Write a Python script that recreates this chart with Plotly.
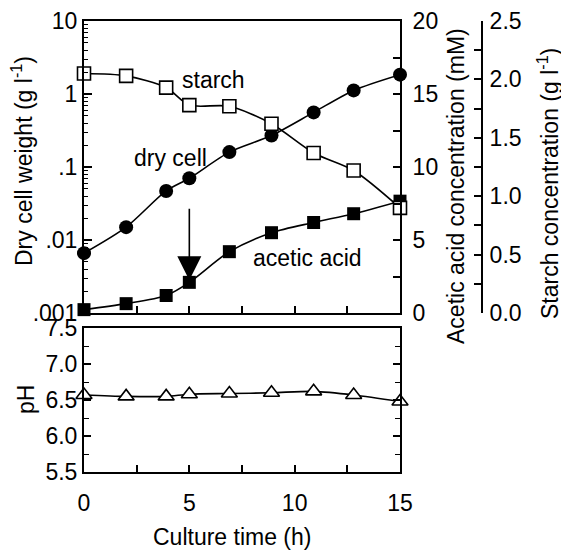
import plotly.graph_objects as go
import numpy as np

# ---- data ----
time_h = [0, 2, 3.9, 5, 6.9, 8.9, 10.9, 12.8, 15]
dry_cell = [0.0066, 0.015, 0.047, 0.070, 0.16, 0.27, 0.56, 1.12, 1.84]      # g/l (log axis)
starch = [2.05, 2.03, 1.93, 1.78, 1.77, 1.62, 1.37, 1.22, 0.90]             # g/l
acetic = [0.23, 0.64, 1.2, 2.1, 4.2, 5.5, 6.2, 6.8, 7.66]                   # mM
ph = [6.57, 6.55, 6.55, 6.58, 6.59, 6.60, 6.62, 6.57, 6.48]

x_ticks = [0, 2.5, 5, 7.5, 10, 12.5, 15]
x_ticktext = ["0", "", "5", "", "10", "", "15"]
log_ticks = [0.001, 0.01, 0.1, 1, 10]
log_ticktext = [".001", ".01", ".1", "1", "10"]
ph_ticks = [5.5, 6.0, 6.5, 7.0, 7.5]
acetic_ticks = [0, 2.5, 5, 7.5, 10, 12.5, 15, 17.5, 20]
acetic_ticktext = ["0", "", "5", "", "10", "", "15", "", "20"]
starch_ticks = [0, 0.25, 0.5, 0.75, 1.0, 1.25, 1.5, 1.75, 2.0, 2.25, 2.5]
starch_ticktext = ["0.0", "", "0.5", "", "1.0", "", "1.5", "", "2.0", "", "2.5"]

# ---- layout geometry (pixels, in reference-picture coordinates) ----
OFF = 8  # page body margin of the browser
W, H = 569 - OFF, 550 - OFF
ML, MR, MT, MB = 84, 20, 21, 78          # reference coords of plot area edges
PW, PH = 569 - ML - MR, 550 - MT - MB
x_right_px = 400
top_bottom_px = 313
ph_top_px = 328
starch_axis_px = 482

def px_x(p):
    return (p - ML) / PW

def px_y(p):
    return (550 - MB - p) / PH

def data_x(p):
    return (p - ML) / (x_right_px - ML) * 15

xdom = [0, px_x(x_right_px)]
FONT = "Liberation Sans, Arial, sans-serif"
FS = 23
minor_log = [m * 10.0 ** e for e in range(-3, 1) for m in range(2, 10)]

fig = go.Figure()
black = "black"

fig.add_trace(go.Scatter(x=time_h, y=dry_cell, mode="lines+markers", xaxis="x", yaxis="y",
                         line=dict(color=black, width=1.6, shape="spline", smoothing=0.8),
                         marker=dict(symbol="circle", size=14, color=black), cliponaxis=False))
fig.add_trace(go.Scatter(x=time_h, y=acetic, mode="lines+markers", xaxis="x", yaxis="y3",
                         line=dict(color=black, width=1.6, shape="spline", smoothing=0.8),
                         marker=dict(symbol="square", size=13, color=black), cliponaxis=False))
fig.add_trace(go.Scatter(x=time_h, y=starch, mode="lines+markers", xaxis="x", yaxis="y4",
                         line=dict(color=black, width=1.6, shape="spline", smoothing=0.8),
                         marker=dict(symbol="square", size=13, color="white",
                                     line=dict(color=black, width=1.6)), cliponaxis=False))
fig.add_trace(go.Scatter(x=time_h, y=ph, mode="lines+markers", xaxis="x2", yaxis="y2",
                         line=dict(color=black, width=1.6, shape="spline", smoothing=0.8),
                         marker=dict(symbol="triangle-up", size=14, color="white",
                                     line=dict(color=black, width=1.6)), cliponaxis=False))

axis_common = dict(showline=True, linecolor=black, linewidth=2, ticks="inside", automargin=False,
                   tickcolor=black, tickwidth=1.5, showgrid=False, zeroline=False,
                   tickfont=dict(family=FONT, size=FS, color=black))

fig.update_layout(
    width=W, height=H,
    margin=dict(l=ML - OFF, r=MR, t=MT - OFF, b=MB, autoexpand=False),
    paper_bgcolor="white", plot_bgcolor="white", showlegend=False,
    font=dict(family=FONT, size=FS, color=black),
    xaxis=dict(domain=xdom, range=[0, 15], anchor="y", tickvals=x_ticks, ticktext=x_ticktext,
               showticklabels=False, ticklen=7, mirror=True, **axis_common),
    xaxis2=dict(domain=xdom, range=[0, 15], anchor="y2", tickvals=x_ticks, ticktext=x_ticktext,
                ticklen=7, mirror=True, ticklabelstandoff=9, **axis_common),
    yaxis=dict(domain=[px_y(top_bottom_px), 1], type="log", range=[-3, 1], anchor="x",
               tickvals=log_ticks, ticktext=log_ticktext, ticklen=8, mirror=True,
               minor=dict(tickvals=minor_log, ticks="inside", ticklen=4, tickcolor=black, tickwidth=1.2),
               **axis_common),
    yaxis2=dict(domain=[0, px_y(ph_top_px)], range=[5.5, 7.5], anchor="x2",
                tickvals=ph_ticks, tickformat=".1f", ticklen=7, mirror="allticks",
                minor=dict(dtick=0.25, ticks="inside", ticklen=5, tickcolor=black, tickwidth=1.2),
                **axis_common),
    yaxis3=dict(overlaying="y", side="right", anchor="x", range=[0, 20],
                tickvals=acetic_ticks, ticktext=acetic_ticktext, ticklen=7,
                ticklabelstandoff=6, **axis_common),
    yaxis4=dict(overlaying="y", side="right", anchor="free", position=px_x(starch_axis_px),
                range=[0, 2.5], tickvals=starch_ticks, ticktext=starch_ticktext, ticklen=7,
                ticklabelstandoff=2, **axis_common),
)

ann_font = dict(family=FONT, size=FS, color=black)
C = dict(xanchor="center", yanchor="middle", showarrow=False, font=ann_font)
annotations = [
    dict(text="starch", x=data_x(213), y=px_y(80), xref="x", yref="paper", **C),
    dict(text="dry cell", x=data_x(170), y=px_y(158), xref="x", yref="paper", **C),
    dict(text="acetic acid", x=data_x(307), y=px_y(258), xref="x", yref="paper", **C),
    dict(text="Dry cell weight (g l<sup>-1</sup>)", x=px_x(22), y=px_y(161), xref="paper", yref="paper",
         textangle=-90, **C),
    dict(text="Acetic acid concentration (mM)", x=px_x(456), y=px_y(186), xref="paper", yref="paper",
         textangle=-90, **C),
    dict(text="Starch concentration (g l<sup>-1</sup>)", x=px_x(548), y=px_y(184), xref="paper", yref="paper",
         textangle=-90, **C),
    dict(text="pH", x=px_x(26), y=px_y(400), xref="paper", yref="paper", textangle=-90, **C),
    dict(text="Culture time (h)", x=px_x(232), y=px_y(537), xref="paper", yref="paper", **C),
    # arrow marking onset of acetate production
    dict(text="", x=5, y=np.log10(0.0028), xref="x", yref="y", ax=0, ay=-73, axref="pixel", ayref="pixel",
         showarrow=True, arrowhead=2, arrowsize=3, arrowwidth=1.6, arrowcolor=black),
]
fig.update_layout(annotations=annotations)

fig.write_html("out.html")
